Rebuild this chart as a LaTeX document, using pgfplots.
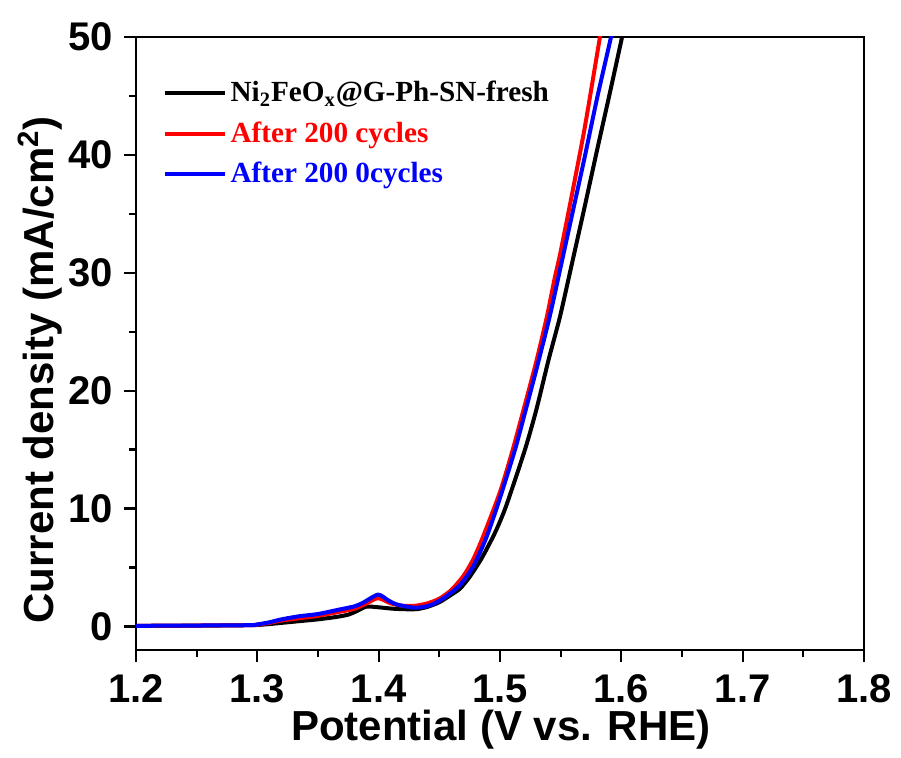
\documentclass[border=0pt]{standalone}
\usepackage{fontspec}
\setmainfont{Liberation Serif}
\setsansfont{Liberation Sans}
\usepackage{pgfplots}
\pgfplotsset{compat=1.18}
\begin{document}
\begin{tikzpicture}
\path[use as bounding box] (-68pt,-54pt) rectangle (382.5pt,325pt);
\begin{axis}[
  at={(0,0)}, anchor=south west,
  scale only axis,
  width=364pt, height=306.5pt,
  xmin=1.2, xmax=1.8, ymin=-2, ymax=50,
  xtick={1.2,1.3,...,1.8},
  ytick={0,10,...,50},
  minor x tick num=1,
  minor y tick num=1,
  xticklabels={1.2,1.3,1.4,1.5,1.6,1.7,1.8},
  tick align=outside,
  tick pos=left,
  major tick length=6pt,
  minor tick length=3.5pt,
  every tick/.style={black, line width=1.1pt},
  axis line style={line width=1.3pt},
  /pgf/number format/assume math mode=true,
  ticklabel style={font=\sffamily\bfseries\fontsize{20}{24}\selectfont},
  xticklabel style={yshift=-3pt},
  yticklabel style={xshift=-2pt},
  xlabel={Potential (V vs. RHE)},
  ylabel={Current density (mA/cm\textsuperscript{2})},
  label style={font=\sffamily\bfseries\fontsize{21}{25}\selectfont},
  xlabel style={at={(axis description cs:0.501,-0.1305)}, anchor=center},
  ylabel style={at={(axis description cs:-0.1319,0.457)}, anchor=center},
  clip=true,
  legend style={draw=none, fill=none, at={(axis description cs:0.036,0.935)}, anchor=north west,
    font=\rmfamily\bfseries\fontsize{14.6}{17}\selectfont, inner sep=0pt, row sep=4.5pt,
    /tikz/every even column/.style={column sep=0pt}},
  legend cell align=left,
  legend image code/.code={\draw[#1, line width=2pt] (0pt,0pt) -- (30pt,0pt);},
]
\addplot[black, line width=2pt, smooth, tension=0.4] coordinates {
(1.20,0.05) (1.25,0.06) (1.29,0.1) (1.30,0.12) (1.31,0.2) (1.32,0.3) (1.335,0.45)
(1.35,0.6) (1.365,0.8) (1.375,1.0) (1.382,1.3) (1.39,1.68) (1.40,1.62) (1.412,1.5)
(1.425,1.45) (1.432,1.47) (1.44,1.65) (1.45,2.05) (1.46,2.7) (1.467,3.2) (1.475,4.2)
(1.485,5.8) (1.496,7.97) (1.505,10.2) (1.5206,15) (1.53,18.4) (1.54,22.6) (1.5495,26.3)
(1.56,31.1) (1.57,35.7) (1.58,40.4) (1.59,45.0) (1.6006,50) (1.603,51.5)
};
\addlegendentry{Ni\textsubscript{2}FeO\textsubscript{x}@G-Ph-SN-fresh}
\addplot[red, line width=2pt, smooth, tension=0.4] coordinates {
(1.20,0.05) (1.29,0.1) (1.30,0.15) (1.31,0.3) (1.32,0.5) (1.335,0.7) (1.35,0.9)
(1.368,1.25) (1.38,1.5) (1.39,1.95) (1.3995,2.4) (1.41,1.95) (1.42,1.75) (1.43,1.75)
(1.44,1.95) (1.45,2.35) (1.46,3.1) (1.47,4.3) (1.478,5.7) (1.486,7.6) (1.50,11.4) (1.510,14.8)
(1.52,18.6) (1.53,22.5) (1.5387,26.3) (1.545,29.5) (1.55,31.8) (1.56,37.0) (1.57,42.4)
(1.5824,50) (1.585,51.5)
};
\addlegendentry{\textcolor{red}{After 200 cycles}}
\addplot[blue, line width=2pt, smooth, tension=0.4] coordinates {
(1.20,0.05) (1.29,0.1) (1.30,0.17) (1.31,0.35) (1.32,0.6) (1.335,0.87) (1.35,1.05)
(1.368,1.44) (1.38,1.7) (1.387,2.0) (1.3995,2.7) (1.408,2.2) (1.415,1.86) (1.428,1.6)
(1.437,1.65) (1.445,1.9) (1.455,2.5) (1.467,3.5) (1.478,5.1) (1.489,7.6) (1.50,10.9)
(1.5124,15) (1.52,17.9) (1.53,21.8) (1.541,26.3) (1.55,30.5) (1.56,35.2) (1.57,39.9)
(1.58,44.8) (1.5915,50) (1.594,51.5)
};
\addlegendentry{\textcolor{blue}{After 200 0cycles}}
\end{axis}
\end{tikzpicture}
\end{document}
